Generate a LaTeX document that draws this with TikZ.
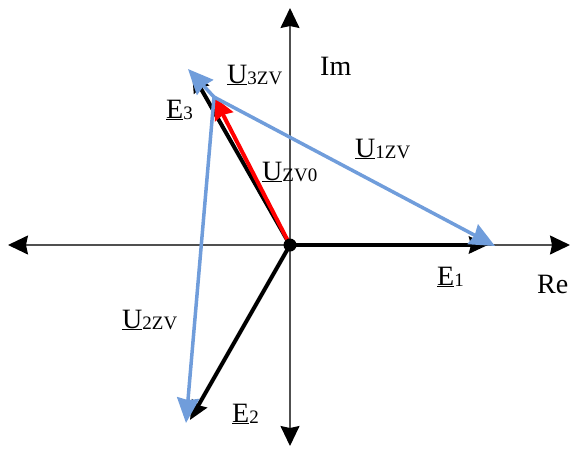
\documentclass[tikz,border=0pt]{standalone}
\usepackage{fontspec}
\setmainfont{Liberation Serif}
\usetikzlibrary{arrows.meta}
\definecolor{vblue}{RGB}{112,157,219}
\definecolor{axgray}{RGB}{80,80,80}
\newcommand{\lbl}[2]{\fontsize{28}{30}\selectfont\underline{#1}\raisebox{-1.5pt}{\fontsize{19}{20}\selectfont #2}}
\begin{document}
\begin{tikzpicture}[x=1pt,y=-1pt,
  axis/.style={axgray,line width=1.5pt,-{Stealth[length=20pt,width=19pt,inset=2pt,color=black]}},
  vec/.style={black,line width=4pt,-{Stealth[length=19pt,width=17pt,inset=2pt]}},
  bvec/.style={vblue,line width=3.5pt,-{Stealth[length=25pt,width=22pt,inset=2pt]}},
  rvec/.style={red,line width=4pt,-{Stealth[length=22pt,width=20pt,inset=2pt]}},
  txt/.style={anchor=base west,inner sep=0pt,font=\fontsize{28}{30}\selectfont}]
\useasboundingbox (0,0) rectangle (573,448);
\coordinate (O) at (290,245);
\coordinate (L) at (8,245);
\coordinate (R) at (570,245);
\coordinate (T) at (290,8);
\coordinate (B) at (290,446);
\coordinate (E1) at (488,245);
\coordinate (E2) at (190,420);
\coordinate (E3) at (192,73);
\coordinate (N) at (214,97);
\coordinate (T1) at (495,246);
\coordinate (T2) at (186,423);
\coordinate (T3) at (188,69);
% axes
\draw[axis] (O) -- (L);
\draw[axis] (O) -- (R);
\draw[axis] (O) -- (T);
\draw[axis] (O) -- (B);
% voltage vectors
\draw[vec] (O) -- (E1);
\draw[vec] (O) -- (E2);
\draw[vec] (O) -- (E3);
\draw[rvec] (O) -- (N);
\draw[bvec] (N) -- (T1);
\draw[bvec] (N) -- (T2);
\draw[bvec] (N) -- (T3);
\fill[black] (O) circle (6.5pt);
% labels
\node[txt] (im) at (320,75) {Im};
\node[txt] (re) at (537,293) {Re};
\node[txt] (u3) at (227,83) {\lbl{U}{3ZV}};
\node[txt] (e3) at (166,118) {\lbl{E}{3}};
\node[txt] (u0) at (262,180) {\lbl{U}{ZV0}};
\node[txt] (u1) at (355,157) {\lbl{U}{1ZV}};
\node[txt] (e1) at (437,285) {\lbl{E}{1}};
\node[txt] (u2) at (122,328) {\lbl{U}{2ZV}};
\node[txt] (e2) at (232,422) {\lbl{E}{2}};
\end{tikzpicture}
\end{document}
